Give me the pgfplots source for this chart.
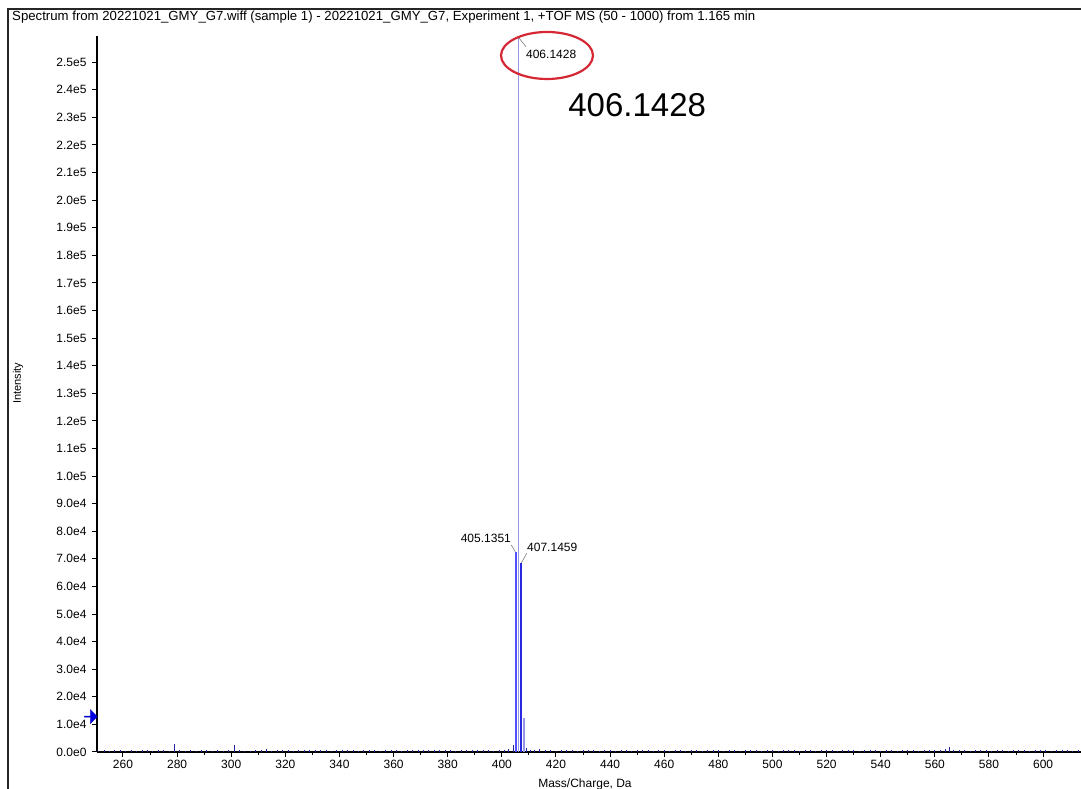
\documentclass[border=0pt]{standalone}
\usepackage{pgfplots}
\pgfplotsset{compat=1.18}
\usepackage{fontspec}
\setmainfont{Liberation Sans}
\usetikzlibrary{shapes.arrows}
\definecolor{peaklight}{RGB}{150,150,232}
\definecolor{peakmid}{RGB}{80,80,255}
\definecolor{peakdark}{RGB}{40,40,225}
\definecolor{noiseblue}{RGB}{35,35,160}
\definecolor{circred}{RGB}{214,40,52}
\begin{document}
\begin{tikzpicture}[x=1pt,y=1pt]
\useasboundingbox (0pt,0pt) rectangle (1081pt,789pt);
\draw[line width=2.5pt, black!85] (8pt,-5pt) -- (8pt,780pt) -- (1090pt,780pt);
\node[anchor=west, font=\fontsize{13.2}{15}\selectfont, inner sep=0] at (12pt,771.5pt)
  {Spectrum from 20221021\_GMY\_G7.wiff (sample 1) - 20221021\_GMY\_G7, Experiment 1, +TOF MS (50 - 1000) from 1.165 min};
\node[rotate=90, font=\fontsize{11}{13}\selectfont, inner sep=0] at (18pt,406pt) {Intensity};
\node[font=\fontsize{12}{14}\selectfont, inner sep=0, anchor=north] at (585pt,10.5pt) {Mass/Charge, Da};
\begin{axis}[
  at={(97pt,37pt)}, anchor=south west, scale only axis,
  width=984pt, height=716pt,
  xmin=250.4, xmax=614, ymin=0, ymax=259500,
  axis x line=bottom, axis y line=left,
  axis line style={-, line width=1.6pt, black},
  tick align=outside,
  major tick length=5pt, minor tick length=3pt,
  tick style={black, line width=1pt},
  xtick={260,280,...,600}, minor x tick num=1,
  ytick={0,10000,...,250000},
  yticklabels={0.0e0,1.0e4,2.0e4,3.0e4,4.0e4,5.0e4,6.0e4,7.0e4,8.0e4,9.0e4,1.0e5,1.1e5,1.2e5,1.3e5,1.4e5,1.5e5,1.6e5,1.7e5,1.8e5,1.9e5,2.0e5,2.1e5,2.2e5,2.3e5,2.4e5,2.5e5},
  scaled y ticks=false, scaled x ticks=false,
  /pgf/number format/assume math mode=true,
  /pgf/number format/1000 sep={},
  ticklabel style={font=\fontsize{12}{14}\selectfont},
  yticklabel style={xshift=-2pt},
  clip=false,
]
% baseline noise
\addplot[ycomb, noiseblue, line width=0.8pt, mark=none] coordinates {
(251,500)(253,700)(255,400)(257,600)(259,800)(261,500)(263,700)(265,400)(267,600)(269,900)
(271,500)(273,700)(275,600)(277,500)(279.0,2800)(281,600)(283,500)(285,700)(287,400)(289,600)
(291,700)(293,500)(295,600)(297,500)(299,700)(301.1,2400)(303,600)(305,500)(307,400)(309,600)
(311,700)(313,1100)(315,500)(317,700)(319,600)(321,800)(323,500)(325,700)(327,600)(329,900)
(331,700)(333,600)(335,800)(337,500)(339,700)(341,900)(343,600)(345,700)(347,500)(349,800)
(351,600)(353,700)(355,500)(357,800)(359,600)(361,700)(363,500)(365,900)(367,600)(369,700)
(371,800)(373,600)(375,900)(377,700)(379,600)(381,800)(383,500)(385,700)(387,600)(389,800)
(391,900)(393,600)(395,700)(397,500)(399,800)(401,600)(402.5,1100)(404.1,2600)(409.2,1500)(410.5,900)
(412,800)(414,1000)(416,600)(418,700)(420,500)(422,800)(424,600)(426,700)(428,500)(430,800)
(432,600)(434,700)(436,500)(438,600)(440,800)(442,500)(444,700)(446,600)(448,500)(450,700)
(452,600)(454,800)(456,500)(458,600)(460,700)(462,500)(464,800)(466,600)(468,500)(470,700)
(472,600)(474,500)(476,700)(478,600)(480,800)(482,500)(484,700)(486,600)(488,500)(490,700)
(492,600)(494,800)(496,500)(498,700)(500,600)(502,500)(504,700)(506,600)(508,800)(510,500)
(512,700)(514,600)(516,500)(518,800)(520,600)(522,700)(524,500)(526,800)(528,600)(530,700)
(532,500)(534,700)(536,600)(538,800)(540,500)(542,700)(544,600)(546,500)(548,700)(550,600)
(552,800)(554,500)(556,700)(558,600)(560,800)(562,900)(564,1100)(565.2,1700)(567,800)(569,600)
(571,700)(573,500)(575,700)(577,600)(579,800)(581,500)(583,700)(585,600)(587,500)(589,700)
(591,600)(593,800)(595,500)(597,700)(599,600)(601,800)(603,500)(605,700)(607,600)(609,800)
(611,500)(613,700)
};
\addplot[ycomb, draw=peaklight, line width=1.3pt, mark=none] coordinates {(406.1428,259000)};
\addplot[ycomb, draw=peakmid, line width=1.5pt, mark=none] coordinates {(405.1351,72500)};
\addplot[ycomb, draw=peakdark, line width=1.5pt, mark=none] coordinates {(407.1459,68500)};
\addplot[ycomb, draw=peaklight, line width=1.3pt, mark=none] coordinates {(408.15,12300)};
% peak labels
\draw[gray, line width=0.6pt] (axis cs:406.14,259000) -- (axis cs:409.0,255500);
\node[anchor=west, inner sep=0, font=\fontsize{12}{14}\selectfont] at (axis cs:408.9,252900) {406.1428};
\draw[gray, line width=0.6pt] (axis cs:403.5,75000) -- (axis cs:405.0,72500);
\node[anchor=east, inner sep=0, font=\fontsize{12}{14}\selectfont] at (axis cs:403.4,77500) {405.1351};
\draw[gray, line width=0.6pt] (axis cs:407.2,68500) -- (axis cs:409.2,72000);
\node[anchor=west, inner sep=0, font=\fontsize{12}{14}\selectfont] at (axis cs:409.3,74300) {407.1459};
\node[inner sep=0, font=\fontsize{33}{38}\selectfont] at (axis cs:450.0,234400) {406.1428};
% threshold arrow
\node[single arrow, fill=blue!90!black, draw=blue!70!black, minimum height=13pt, minimum width=14pt,
  single arrow head extend=2.5pt, single arrow head indent=0pt, inner sep=0, anchor=tip] at (axis cs:250.6,12800) {};
\end{axis}
\draw[circred, line width=2.2pt] (547pt,733.5pt) ellipse (46pt and 23.5pt);
\end{tikzpicture}
\end{document}
